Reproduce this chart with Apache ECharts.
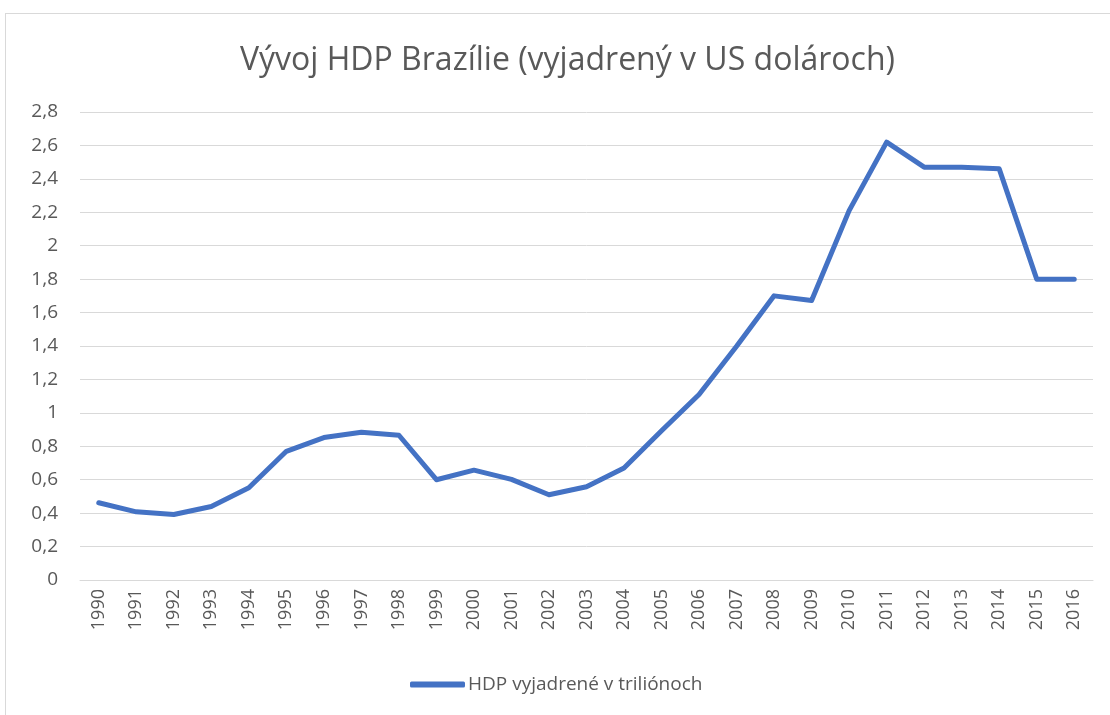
<!DOCTYPE html>
<html>
<head>
<meta charset="utf-8">
<script src="https://cdn.jsdelivr.net/npm/echarts@6/dist/echarts.min.js"></script>
<style>
  html, body { margin: 0; padding: 0; background: #fff; }
  #frame { position: absolute; left: 5px; top: 13px; width: 1110px; height: 710px; border: 1px solid #d9d9d9; box-sizing: border-box; }
  #chart { width: 1110px; height: 715px; position: absolute; left: 0; top: 0; }
</style>
</head>
<body>
<div id="frame"></div>
<div id="chart"></div>
<script>
// roky na osi x
const years = ["1990", "1991", "1992", "1993", "1994", "1995", "1996", "1997", "1998", "1999",
  "2000", "2001", "2002", "2003", "2004", "2005", "2006", "2007", "2008", "2009",
  "2010", "2011", "2012", "2013", "2014", "2015", "2016"];
// HDP v triliónoch USD (odčítané z grafu)
const hdp = [0.462, 0.408, 0.392, 0.440, 0.552, 0.770, 0.852, 0.884, 0.866, 0.600,
  0.657, 0.602, 0.510, 0.558, 0.670, 0.893, 1.110, 1.398, 1.700, 1.672,
  2.210, 2.620, 2.470, 2.470, 2.460, 1.800, 1.800];
const yTicks = { min: 0, max: 2.8, step: 0.2 };

const font = "Open Sans";
const textColor = "#595959";

const myChart = echarts.init(document.getElementById("chart"));
myChart.setOption({
  animation: false,
  title: {
    text: "Vývoj HDP Brazílie (vyjadrený v US dolároch)",
    left: 235,
    top: 40,
    textStyle: { color: textColor, fontFamily: font, fontWeight: "normal", fontSize: 32 }
  },
  legend: {
    bottom: 16,
    left: 405,
    icon: "roundRect",
    itemWidth: 55,
    itemHeight: 6,
    itemGap: 0,
    textStyle: { color: textColor, fontFamily: font, fontSize: 19, padding: [0, 0, 0, -2] },
    data: ["HDP vyjadrené v triliónoch"]
  },
  grid: { left: 80, right: 17, top: 112, bottom: 135 },
  xAxis: {
    type: "category",
    data: years,
    boundaryGap: true,
    axisLine: { lineStyle: { color: "#d9d9d9", width: 1 } },
    axisTick: { show: false },
    axisLabel: { rotate: 90, interval: 0, margin: 9, color: textColor, fontFamily: font, fontSize: 18 }
  },
  yAxis: {
    type: "value",
    min: yTicks.min,
    max: yTicks.max,
    interval: yTicks.step,
    axisLine: { show: false },
    axisTick: { show: false },
    splitLine: { lineStyle: { color: "#d9d9d9", width: 1 } },
    axisLabel: {
      margin: 22,
      color: textColor,
      fontFamily: font,
      fontSize: 19,
      formatter: v => String(Math.round(v * 10) / 10).replace(".", ",")
    }
  },
  series: [
    {
      name: "HDP vyjadrené v triliónoch",
      type: "line",
      data: hdp,
      showSymbol: false,
      symbol: "none",
      itemStyle: { color: "#4472c4" },
      lineStyle: { color: "#4472c4", width: 5, cap: "round", join: "round" }
    }
  ]
});
window.addEventListener("resize", () => myChart.resize());
</script>
</body>
</html>
